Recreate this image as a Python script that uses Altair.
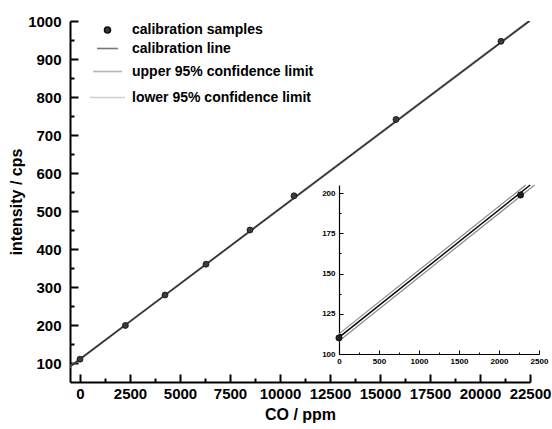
import altair as alt
import pandas as pd

# Calibration samples (CO concentration in ppm, detector intensity in cps)
sample_co = [0, 2270, 4250, 6300, 8500, 10700, 15800, 21050]
sample_int = [110, 198.8, 279, 360, 450, 540, 741, 946.6]

# Calibration line and 95 % confidence limits over the full range
line_co = [-500, 0, 2500, 22500]
fit_int = [90.5, 110.3, 209.3, 1001.3]
upper_int = [92.8, 112.5, 211.5, 1004.0]
lower_int = [88.2, 108.1, 207.1, 998.6]

# The same three lines inside the inset window (0-2500 ppm, up to 205 cps)
inset_fit_co = [0, 2390]
inset_fit_int = [110.3, 205.0]
inset_upper_co = [0, 2335]
inset_upper_int = [112.5, 205.0]
inset_lower_co = [0, 2445]
inset_lower_int = [108.1, 205.0]

series_names = ["calibration samples", "calibration line",
                "upper 95% confidence limit", "lower 95% confidence limit"]

# Axis tick values
main_x_major = [0, 2500, 5000, 7500, 10000, 12500, 15000, 17500, 20000, 22500]
main_x_minor = [1250, 3750, 6250, 8750, 11250, 13750, 16250, 18750, 21250]
main_y_major = [100, 200, 300, 400, 500, 600, 700, 800, 900, 1000]
main_y_minor = [150, 250, 350, 450, 550, 650, 750, 850, 950]
inset_x_major = [0, 500, 1000, 1500, 2000, 2500]
inset_x_minor = [250, 750, 1250, 1750, 2250]
inset_y_major = [100, 125, 150, 175, 200]
inset_y_minor = [112.5, 137.5, 162.5, 187.5]

W, H = 460, 361
FONT = "Liberation Sans"

samples = pd.DataFrame({"co": sample_co, "intensity": sample_int,
                        "series": series_names[0]})
lines = pd.DataFrame({"co": line_co, "fit": fit_int,
                      "upper": upper_int, "lower": lower_int})


def label_axis(orient, values, offset, size, padding, title=None, title_size=16,
               title_padding=4, width=2):
    kw = dict(orient=orient, offset=offset, values=values, format="d", ticks=False,
              grid=False, domain=True, domainWidth=width, domainColor="black",
              labelOverlap=False, labelFlush=False, labelFont=FONT, labelFontSize=size,
              labelFontWeight="bold", labelColor="black", labelPadding=padding)
    if title is None:
        kw["title"] = None
    else:
        kw.update(title=title, titleFont=FONT, titleFontSize=title_size,
                  titleFontWeight="bold", titleColor="black", titlePadding=title_padding)
    return alt.Axis(**kw)


def tick_axis(orient, values, offset, length, width):
    """Ticks-only axis placed on the opposite edge so that its ticks point inward."""
    return alt.Axis(orient=orient, offset=offset, values=values, ticks=True,
                    tickSize=length, tickWidth=width, tickColor="black",
                    labels=False, domain=False, grid=False, title=None)


# ---------- main panel ----------
mx = alt.Scale(domain=[-500, 22500], nice=False, zero=False)
my = alt.Scale(domain=[50, 1000], nice=False, zero=False)

base_lines = alt.Chart(lines)
main_upper = base_lines.mark_line(color="#9a9a9a", strokeWidth=1, clip=True).encode(
    x=alt.X("co:Q", scale=mx, axis=label_axis("bottom", main_x_major, 0, 15, 4,
                                              "CO / ppm", title_padding=5)),
    y=alt.Y("upper:Q", scale=my, axis=label_axis("left", main_y_major, 0, 15, 9,
                                                 "intensity / cps", title_padding=3)))
main_lower = base_lines.mark_line(color="#9a9a9a", strokeWidth=1, clip=True).encode(
    x=alt.X("co:Q", scale=mx, axis=tick_axis("top", main_x_major, -H, 8, 2)),
    y=alt.Y("lower:Q", scale=my, axis=tick_axis("right", main_y_major, -W, 8, 2)))
main_fit = base_lines.mark_line(color="#2a2a2a", strokeWidth=1.4, clip=True).encode(
    x=alt.X("co:Q", scale=mx, axis=tick_axis("top", main_x_minor, -H, 4, 2)),
    y=alt.Y("fit:Q", scale=my, axis=tick_axis("right", main_y_minor, -W, 4, 2)))

legend_scale_args = dict(domain=series_names)
main_points = alt.Chart(samples).mark_point(filled=True, opacity=1, strokeWidth=0.8).encode(
    x=alt.X("co:Q", scale=mx, axis=None),
    y=alt.Y("intensity:Q", scale=my, axis=None),
    fill=alt.Fill("series:N", scale=alt.Scale(range=["#3a3a3a", "#777777", "#b5b5b5", "#cfcfcf"],
                                              **legend_scale_args),
                  legend=alt.Legend(title=None, orient="none", legendX=19, legendY=2,
                                    labelFont=FONT, labelFontSize=14, labelFontWeight="bold",
                                    labelColor="black", labelOffset=6, labelLimit=0,
                                    rowPadding=-6, symbolStrokeWidth=1.6)),
    stroke=alt.Stroke("series:N", scale=alt.Scale(range=["#111111", "#777777", "#b5b5b5", "#cfcfcf"],
                                                  **legend_scale_args)),
    shape=alt.Shape("series:N", scale=alt.Scale(range=["circle", "stroke", "stroke", "stroke"],
                                                **legend_scale_args)),
    size=alt.Size("series:N", scale=alt.Scale(range=[36, 1225, 1225, 1225],
                                              **legend_scale_args)),
)

main = alt.layer(main_upper, main_lower, main_fit, main_points).resolve_axis(
    x="independent", y="independent")

# ---------- inset panel (zoom on the low-concentration end) ----------
IX0, IX1 = 269, 469
IY0, IY1 = 333, 164
ix = alt.Scale(domain=[0, 2500], range=[IX0, IX1], nice=False, zero=False)
iy = alt.Scale(domain=[100, 205], range=[IY0, IY1], nice=False, zero=False)


def inset_line(co, vals, color, width, x_axis, y_axis):
    df = pd.DataFrame({"co": co, "v": vals})
    return alt.Chart(df).mark_line(color=color, strokeWidth=width).encode(
        x=alt.X("co:Q", scale=ix, axis=x_axis), y=alt.Y("v:Q", scale=iy, axis=y_axis))


inset_upper = inset_line(inset_upper_co, inset_upper_int, "#8a8a8a", 1.2,
                         label_axis("bottom", inset_x_major, IY0 - H, 8, 3, width=1.2),
                         label_axis("left", inset_y_major, -IX0, 8, 4, width=1.2))
inset_lower = inset_line(inset_lower_co, inset_lower_int, "#8a8a8a", 1.2,
                         tick_axis("top", inset_x_major, -IY0, 4, 1),
                         tick_axis("right", inset_y_major, -(W - IX0), 4, 1))
inset_fit = inset_line(inset_fit_co, inset_fit_int, "black", 1.4,
                       tick_axis("top", inset_x_minor, -IY0, 2, 1),
                       tick_axis("right", inset_y_minor, -(W - IX0), 2, 1))

inset_samples = samples[(samples["co"] <= 2500)]
inset_points = alt.Chart(inset_samples).mark_point(
    filled=True, opacity=1, size=40, fill="#222222", stroke="#000000",
    strokeWidth=0.6).encode(x=alt.X("co:Q", scale=ix, axis=None),
                            y=alt.Y("intensity:Q", scale=iy, axis=None))

inset = alt.layer(inset_upper, inset_lower, inset_fit, inset_points).resolve_axis(
    x="independent", y="independent")

chart = alt.layer(main, inset).resolve_scale(x="independent", y="independent").properties(
    width=W, height=H,
    background="white",
    autosize=alt.AutoSizeParams(type="none"),
    padding={"left": 70, "top": 21, "right": 22, "bottom": 47},
).configure_view(stroke=None)

chart.save("out.html", embed_options={"renderer": "svg", "actions": False})
